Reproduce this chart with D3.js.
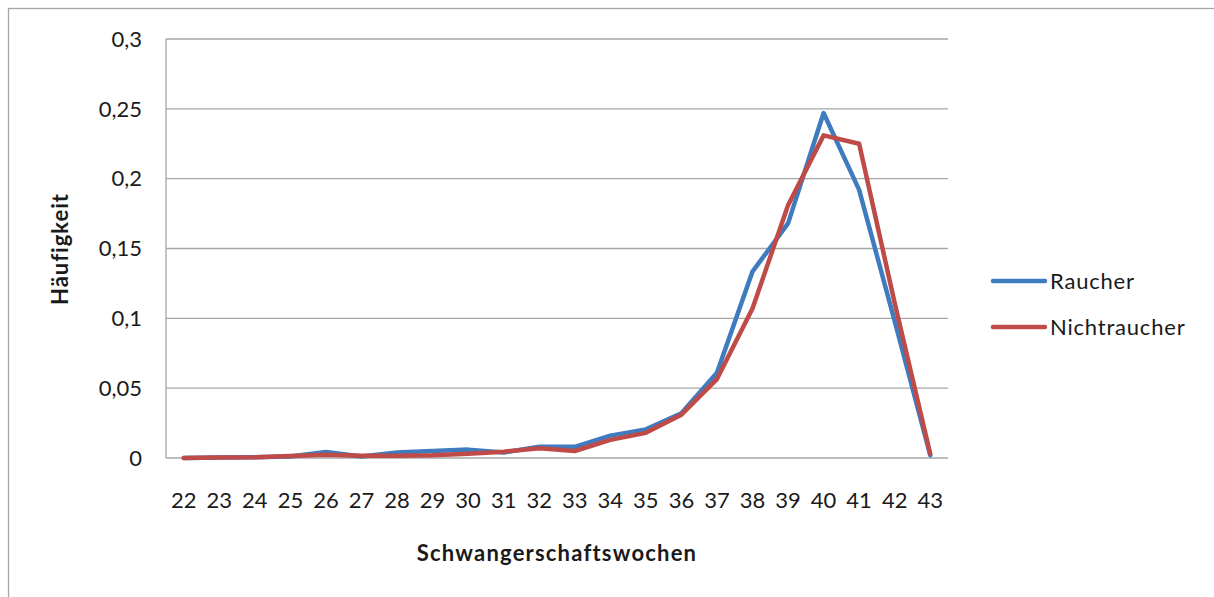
<html lang="de">
<head>
<meta charset="utf-8">
<script src="https://d3js.org/d3.v7.min.js"></script>
<style>
  body { margin: 0; background: #fff; }
  text { font-family: "Lato", "Open Sans", sans-serif; fill: #1a1a1a; }
</style>
</head>
<body>
<script>
// data
var weeks = ["22","23","24","25","26","27","28","29","30","31","32","33","34","35","36","37","38","39","40","41","42","43"];
var raucher = [0, 0.0003, 0.0005, 0.001, 0.0043, 0.001, 0.004, 0.005, 0.006, 0.004, 0.008, 0.008, 0.016, 0.0205, 0.032, 0.061, 0.1335, 0.168, 0.247, 0.192, 0.098, 0.002];
var nichtraucher = [0, 0.0003, 0.0005, 0.0015, 0.0023, 0.0017, 0.0017, 0.002, 0.003, 0.0045, 0.007, 0.005, 0.013, 0.018, 0.031, 0.0565, 0.107, 0.181, 0.231, 0.225, 0.111, 0.003];
var yTicks = [0, 0.05, 0.1, 0.15, 0.2, 0.25, 0.3];
var seriesNames = ["Raucher", "Nichtraucher"];
var seriesColors = ["#3F7BBF", "#BE4B48"];

var width = 1214, height = 597;
var plotLeft = 166, plotRight = 948, plotTop = 39, plotBottom = 458;

var svg = d3.select("body").append("svg")
    .attr("width", width)
    .attr("height", height);

// chart area border
svg.append("rect")
    .attr("x", 8.5).attr("y", 8.5)
    .attr("width", 1400).attr("height", 800)
    .attr("fill", "none")
    .attr("stroke", "#a6a6a6")
    .attr("stroke-width", 1.3);

var x = d3.scalePoint().domain(weeks).range([plotLeft, plotRight]).padding(0.5);
var y = d3.scaleLinear().domain([0, 0.3]).range([plotBottom, plotTop]);

var fmt = function(d) { return String(d).replace(".", ","); };

// grid lines
svg.append("g").selectAll("line")
    .data(yTicks)
    .enter().append("line")
    .attr("x1", plotLeft).attr("x2", plotRight)
    .attr("y1", function(d) { return y(d); })
    .attr("y2", function(d) { return y(d); })
    .attr("stroke", "#a6a6a6")
    .attr("stroke-width", 1.3);

// y axis line
svg.append("line")
    .attr("x1", plotLeft).attr("x2", plotLeft)
    .attr("y1", plotTop).attr("y2", plotBottom)
    .attr("stroke", "#a6a6a6")
    .attr("stroke-width", 1.3);

// y tick labels
svg.append("g").selectAll("text")
    .data(yTicks)
    .enter().append("text")
    .attr("x", 142)
    .attr("y", function(d) { return y(d); })
    .attr("dy", "0.35em")
    .attr("text-anchor", "end")
    .attr("font-size", "22px")
    .text(fmt);

// x tick labels
svg.append("g").selectAll("text")
    .data(weeks)
    .enter().append("text")
    .attr("x", function(d) { return x(d); })
    .attr("y", 500)
    .attr("dy", "0.35em")
    .attr("text-anchor", "middle")
    .attr("font-size", "22px")
    .text(function(d) { return d; });

// axis titles
svg.append("text")
    .attr("transform", "translate(68,249) rotate(-90)")
    .attr("text-anchor", "middle")
    .attr("font-size", "22px")
    .attr("font-weight", "bold")
    .attr("letter-spacing", "1px")
    .text("Häufigkeit");

svg.append("text")
    .attr("x", 557).attr("y", 553)
    .attr("dy", "0.35em")
    .attr("text-anchor", "middle")
    .attr("font-size", "22px")
    .attr("font-weight", "bold")
    .attr("letter-spacing", "1.2px")
    .text("Schwangerschaftswochen");

// lines
var line = d3.line()
    .x(function(d, i) { return x(weeks[i]); })
    .y(function(d) { return y(d); });

[raucher, nichtraucher].forEach(function(s, i) {
  svg.append("path")
     .datum(s)
     .attr("d", line)
     .attr("fill", "none")
     .attr("stroke", seriesColors[i])
     .attr("stroke-width", 4.5)
     .attr("stroke-linejoin", "round")
     .attr("stroke-linecap", "round");
});

// legend
var legend = svg.append("g").selectAll("g")
    .data(seriesNames)
    .enter().append("g")
    .attr("transform", function(d, i) { return "translate(993," + (281 + i * 46) + ")"; });

legend.append("line")
    .attr("x1", 0).attr("x2", 52)
    .attr("stroke", function(d, i) { return seriesColors[i]; })
    .attr("stroke-width", 4.5)
    .attr("stroke-linecap", "round");

legend.append("text")
    .attr("x", 57)
    .attr("dy", "0.35em")
    .attr("font-size", "22px")
    .attr("letter-spacing", "0.8px")
    .text(function(d) { return d; });
</script>
</body>
</html>
